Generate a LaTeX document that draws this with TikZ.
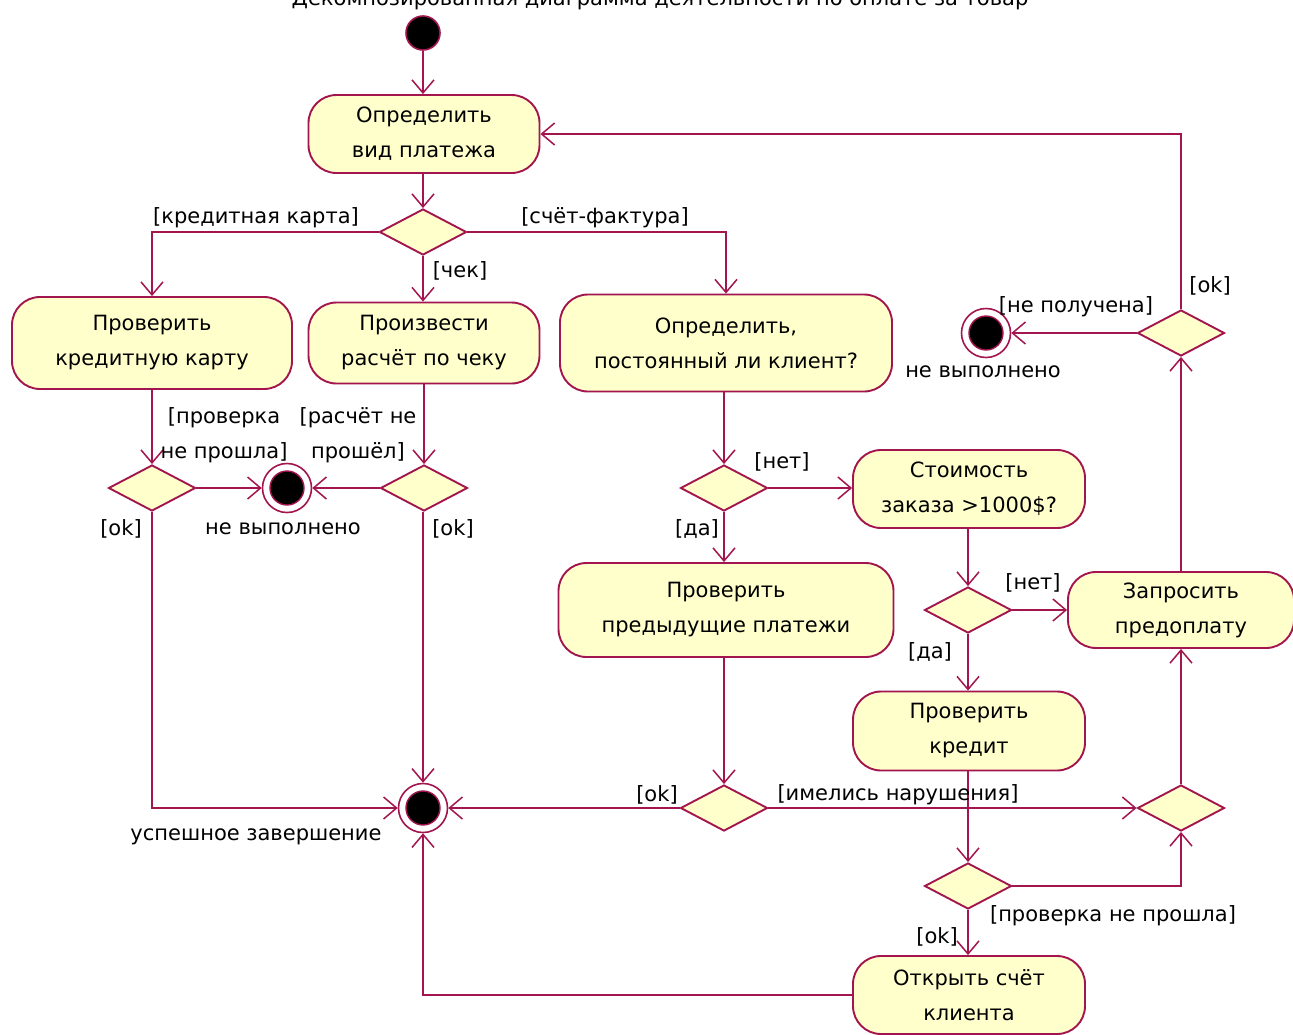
\documentclass[tikz,border=0pt]{standalone}
\usepackage{fontspec}
\setmainfont{DejaVu Sans}
\usetikzlibrary{shapes.geometric,arrows.meta}
\definecolor{lc}{HTML}{A3154E}
\definecolor{fc}{HTML}{FFFFCC}
\tikzset{
  txt/.style={font=\fontsize{21}{35}\selectfont, inner sep=0pt, text=black},
  act/.style={txt, draw=lc, fill=fc, line width=1.9pt, rectangle, rounded corners=28pt, align=center},
  dec/.style={draw=lc, fill=fc, line width=1.9pt, diamond, minimum width=87pt, minimum height=46pt, inner sep=0pt},
  startnode/.style={circle, fill=black, draw=lc, line width=1.6pt, minimum size=34pt, inner sep=0pt},
  endnode/.style={circle, draw=lc, fill=white, line width=1.6pt, minimum size=49pt, inner sep=0pt,
     path picture={\fill[black, draw=lc, line width=1.4pt] (path picture bounding box.center) circle (17pt);}},
  flow/.style={draw=lc, line width=1.9pt, -{Straight Barb[length=13pt,width=22pt,line width=1.5pt]}},
  lbl/.style={txt}
}
\begin{document}
\begin{tikzpicture}[x=1pt,y=-1pt]
\useasboundingbox (0,0) rectangle (1293,1034);
\fill[white] (0,0) rectangle (1293,1034);
\node[txt, anchor=base] (title) at (660,5) {Декомпозированная диаграмма деятельности по оплате за товар};

% nodes
\node[startnode] (i0) at (423,33) {};
\node[act, minimum width=231pt, minimum height=78pt] (a1) at (424,134) {Определить\\вид платежа};
\node[dec] (d1) at (423,232) {};
\node[act, minimum width=280pt, minimum height=92pt] (a2) at (152,343) {Проверить\\кредитную карту};
\node[act, minimum width=231pt, minimum height=81pt] (a3) at (424,343) {Произвести\\расчёт по чеку};
\node[act, minimum width=332pt, minimum height=97pt] (a4) at (726,343) {Определить,\\постоянный ли клиент?};
\node[dec] (d2) at (152,488) {};
\node[dec] (d3) at (424,488) {};
\node[endnode] (f1) at (287,488) {};
\node[dec] (d4) at (724,488) {};
\node[act, minimum width=232pt, minimum height=78pt] (a5) at (969,489) {Стоимость\\заказа >1000\$?};
\node[act, minimum width=335pt, minimum height=94pt] (a6) at (726,610) {Проверить\\предыдущие платежи};
\node[dec] (d5) at (968,610) {};
\node[act, minimum width=226pt, minimum height=76pt] (a7) at (1181,610) {Запросить\\предоплату};
\node[act, minimum width=232pt, minimum height=79pt] (a8) at (969,731) {Проверить\\кредит};
\node[dec] (d6) at (724,808) {};
\node[dec] (d7) at (1181,808) {};
\node[endnode] (f2) at (423,808) {};
\node[dec] (d8) at (968,886) {};
\node[act, minimum width=232pt, minimum height=78pt] (a9) at (969,995) {Открыть счёт\\клиента};
\node[dec] (d9) at (1181,333) {};
\node[endnode] (f3) at (986,333) {};

% connectors
\draw[flow] (i0) -- (i0 |- a1.north);
\draw[flow] (a1.south -| d1.north) -- (d1.north);
\draw[flow] (d1.west) -| (a2.north);
\draw[flow] (d1.south) -- (d1.south |- a3.north);
\draw[flow] (d1.east) -| (a4.north);
\draw[flow] (a2.south) -- (d2.north);
\draw[flow] (a3.south) -- (d3.north);
\draw[flow] (d2.east) -- (f1.west);
\draw[flow] (d3.west) -- (f1.east);
\draw[flow] (d2.south) |- (f2.west);
\draw[flow] (d3.south -| f2.north) -- (f2.north);
\draw[flow] (a4.south -| d4.north) -- (d4.north);
\draw[flow] (d4.east) -- (d4.east -| a5.west);
\draw[flow] (d4.south) -- (d4.south |- a6.north);
\draw[flow] (a5.south -| d5.north) -- (d5.north);
\draw[flow] (d5.east) -- (a7.west);
\draw[flow] (d5.south) -- (a8.north -| d5.south);
\draw[flow] (a6.south -| d6.north) -- (d6.north);
\draw[flow] (d6.west) -- (f2.east);
\draw[flow] (d6.east) -- (d7.west);
\draw[flow] (a8.south -| d8.north) -- (d8.north);
\draw[flow] (d8.east) -| (d7.south);
\draw[flow] (d8.south) -- (a9.north -| d8.south);
\draw[flow] (a9.west) -| (f2.south);
\draw[flow] (d7.north) -- (a7.south);
\draw[flow] (a7.north) -- (d9.south);
\draw[flow] (d9.west) -- (f3.east);
\draw[flow] (d9.north) |- (a1.east);

% labels
\node[lbl] (l1) at (256,218) {[кредитная карта]};
\node[lbl] (l2) at (605,218) {[счёт-фактура]};
\node[lbl] (l3) at (460,271) {[чек]};
\node[lbl, align=center] (l4) at (224,435) {[проверка\\не прошла]};
\node[lbl, align=center] (l5) at (358,435) {[расчёт не\\прошёл]};
\node[lbl] (l6) at (283,529) {не выполнено};
\node[lbl] (l7) at (121,529) {[ok]};
\node[lbl] (l8) at (453,529) {[ok]};
\node[lbl] (l9) at (782,462) {[нет]};
\node[lbl] (l10) at (697,529) {[да]};
\node[lbl] (l11) at (1033,583) {[нет]};
\node[lbl] (l12) at (930,652) {[да]};
\node[lbl] (l13) at (657,795) {[ok]};
\node[lbl] (l14) at (898,795) {[имелись нарушения]};
\node[lbl] (l15) at (256,837) {успешное завершение};
\node[lbl] (l16) at (1113,916) {[проверка не прошла]};
\node[lbl] (l17) at (937,937) {[ok]};
\node[lbl] (l18) at (1076,307) {[не получена]};
\node[lbl] (l19) at (983,372) {не выполнено};
\node[lbl] (l20) at (1210,286) {[ok]};
\end{tikzpicture}
\end{document}
